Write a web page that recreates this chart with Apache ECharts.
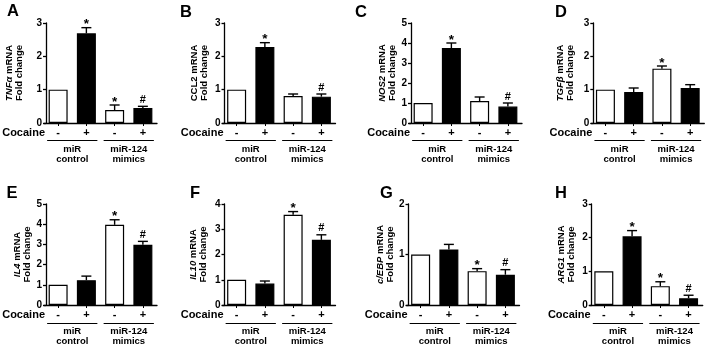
<!DOCTYPE html>
<html><head><meta charset="utf-8">
<script src="https://cdn.jsdelivr.net/npm/echarts@6/dist/echarts.min.js"></script>
<style>html,body{margin:0;padding:0;background:#fff}#c{width:709px;height:346px}</style>
</head><body><div id="c"></div>
<script>
// ---------- data ----------
const cocaineTicks = ['-', '+', '-', '+'];
const groupNames = ['miR\ncontrol', 'miR-124\nmimics'];
const panelLetters = ['A', 'B', 'C', 'D', 'E', 'F', 'G', 'H'];
const geneNames = ['TNFα', 'CCL2', 'NOS2', 'TGFβ', 'IL4', 'IL10', 'c/EBP', 'ARG1'];
const geneItalic = [true, false, true, true, true, true, true, true];
const yMaxes = [3, 3, 5, 3, 5, 4, 2, 3];

const meanA = [1.0, 2.69, 0.39, 0.45]; const errA = [0, 0.17, 0.15, 0.05]; const sigA = ['', '*', '*', '#'];
const meanB = [1.0, 2.28, 0.81, 0.79]; const errB = [0, 0.13, 0.06, 0.08]; const sigB = ['', '*', '', '#'];
const meanC = [1.0, 3.75, 1.10, 0.82]; const errC = [0, 0.25, 0.20, 0.18]; const sigC = ['', '*', '', '#'];
const meanD = [1.0, 0.93, 1.63, 1.05]; const errD = [0, 0.12, 0.08, 0.10]; const sigD = ['', '', '*', ''];
const meanE = [1.0, 1.23, 3.97, 2.98]; const errE = [0, 0.20, 0.25, 0.17]; const sigE = ['', '', '*', '#'];
const meanF = [1.0, 0.85, 3.57, 2.58]; const errF = [0, 0.10, 0.13, 0.20]; const sigF = ['', '', '*', '#'];
const meanG = [1.0, 1.10, 0.67, 0.60]; const errG = [0, 0.10, 0.05, 0.10]; const sigG = ['', '', '*', '#'];
const meanH = [1.0, 2.04, 0.56, 0.20]; const errH = [0, 0.17, 0.13, 0.09]; const sigH = ['', '*', '*', '#'];

const means = [meanA, meanB, meanC, meanD, meanE, meanF, meanG, meanH];
const errs = [errA, errB, errC, errD, errE, errF, errG, errH];
const sigs = [sigA, sigB, sigC, sigD, sigE, sigF, sigG, sigH];
const barFills = ['#ffffff', '#000000', '#ffffff', '#000000'];

// ---------- layout ----------
const FONT = '"Liberation Sans", Arial, Helvetica, sans-serif';
const rows = [{ top: 23, h: 100, cocaine: 10.3, bracket: 17 }, { top: 204, h: 101, cocaine: 10, bracket: 18 }];
const layout = [
  { ax: 46, row: 0, gap: 21.5, lx: 7, ly: 3 },
  { ax: 224.5, row: 0, gap: 15, lx: 180, ly: 4 },
  { ax: 411, row: 0, gap: 13, lx: 355, ly: 4 },
  { ax: 593.3, row: 0, gap: 18, lx: 555, ly: 4 },
  { ax: 46, row: 1, gap: 13, lx: 6.5, ly: 185 },
  { ax: 224.5, row: 1, gap: 16, lx: 190, ly: 185 },
  { ax: 408.5, row: 1, gap: 11.5, lx: 380, ly: 185 },
  { ax: 591.7, row: 1, gap: 15.5, lx: 555, ly: 185 }
];

const chart = echarts.init(document.getElementById('c'), null, { renderer: 'canvas', devicePixelRatio: 1 });
const black = '#000';
const option = { animation: false, backgroundColor: '#fff', title: [], grid: [], xAxis: [], yAxis: [], series: [] };

layout.forEach((L, p) => {
  const R = rows[L.row];
  option.title.push({ text: panelLetters[p], left: L.lx, top: L.ly, padding: 0,
    textStyle: { fontSize: 16.5, fontWeight: 'bold', fontFamily: FONT, color: black } });
  option.grid.push({ left: L.ax - 2, top: R.top, width: 113, height: R.h, containLabel: false, outerBoundsMode: 'none' });
  const gname = geneItalic[p] ? '{i|' + geneNames[p] + '} mRNA\nFold change' : geneNames[p] + ' mRNA\nFold change';
  option.yAxis.push({
    type: 'value', gridIndex: p, min: 0, max: yMaxes[p], interval: 1, offset: -2,
    axisLine: { show: true, lineStyle: { color: black, width: 1.3 } },
    axisTick: { show: true, length: 3, lineStyle: { color: black, width: 1.3 } },
    axisLabel: { color: black, fontSize: 10, fontWeight: 'bold', fontFamily: FONT, margin: 4 },
    splitLine: { show: false },
    name: gname, nameLocation: 'middle', nameRotate: 90, nameGap: L.gap,
    nameTextStyle: { color: black, fontSize: 9.5, fontWeight: 'bold', fontFamily: FONT, lineHeight: 10,
      rich: { i: { color: black, fontSize: 9.5, fontWeight: 'bold', fontStyle: 'italic', fontFamily: FONT, lineHeight: 10 } } }
  });
  option.xAxis.push({
    type: 'category', gridIndex: p, data: cocaineTicks, position: 'bottom',
    axisLine: { show: true, lineStyle: { color: black, width: 1.3 } },
    axisTick: { show: true, alignWithLabel: true, length: 3, lineStyle: { color: black, width: 1 } },
    axisLabel: { color: black, fontSize: 11, fontWeight: 'bold', fontFamily: FONT, margin: 5, lineHeight: 10, interval: 0 },
    splitLine: { show: false }
  });
  option.xAxis.push({
    type: 'category', gridIndex: p, data: groupNames, position: 'bottom',
    axisLine: { show: false }, axisTick: { show: false },
    axisLabel: { color: black, fontSize: 9.5, fontWeight: 'bold', fontFamily: FONT, margin: 21, lineHeight: 10, interval: 0 },
    splitLine: { show: false }
  });
  option.series.push({
    type: 'bar', xAxisIndex: 2 * p, yAxisIndex: p, barWidth: 19,
    data: means[p].map((v, i) => ({ value: v, itemStyle: { color: barFills[i], borderColor: black, borderWidth: 1.2 } })),
    z: 2
  });
  const sig = sigs[p];
  option.series.push({
    type: 'custom', xAxisIndex: 2 * p, yAxisIndex: p, z: 3, clip: false,
    data: means[p].map((v, i) => [i, v, errs[p][i]]),
    encode: { x: 0, y: 1 },
    renderItem: function (params, api) {
      const idx = api.value(0), m = api.value(1), e = api.value(2);
      const base = api.coord([idx, m]);
      const top = api.coord([idx, m + e]);
      const children = [];
      if (e > 0) {
        children.push({ type: 'line', shape: { x1: base[0], y1: base[1], x2: top[0], y2: top[1] }, style: { stroke: black, lineWidth: 1.4 } });
        children.push({ type: 'line', shape: { x1: top[0] - 5, y1: top[1], x2: top[0] + 5, y2: top[1] }, style: { stroke: black, lineWidth: 1.4 } });
      }
      const mark = sig[params.dataIndex];
      if (mark) {
        const star = mark === '*';
        children.push({ type: 'text', x: top[0], y: top[1] - (star ? 3 : 6.5),
          style: { text: mark, fill: black, align: 'center', verticalAlign: 'middle',
            font: 'bold ' + (star ? 13.5 : 11) + 'px ' + FONT } });
      }
      return { type: 'group', children: children };
    }
  });
});

chart.setOption(option);

// decorations positioned through the axes' own scales
const graphics = [];
layout.forEach((L, p) => {
  const R = rows[L.row];
  const y0 = chart.convertToPixel({ yAxisIndex: p }, 0);
  const cx = cocaineTicks.map((_, i) => chart.convertToPixel({ xAxisIndex: 2 * p }, i));
  const by = Math.round(y0 + R.bracket) + 0.5;
  [[0, 1], [2, 3]].forEach(([a, b]) => {
    graphics.push({ type: 'line', silent: true, shape: { x1: cx[a] - 11, y1: by, x2: cx[b] + 11, y2: by }, style: { stroke: black, lineWidth: 1 } });
  });
  graphics.push({ type: 'text', silent: true, x: L.ax - 1, y: y0 + R.cocaine,
    style: { text: 'Cocaine', fill: black, align: 'right', verticalAlign: 'middle', font: 'bold 11px ' + FONT } });
});
chart.setOption({ graphic: graphics });
</script>
</body></html>
